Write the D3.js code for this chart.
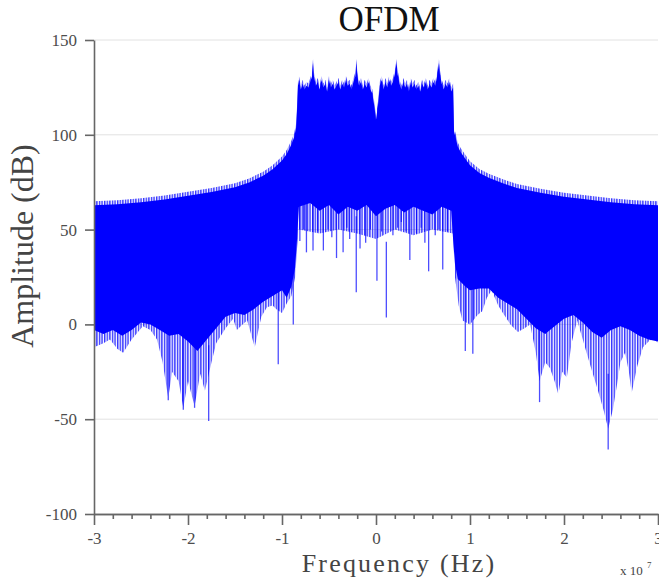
<!DOCTYPE html>
<html lang="en">
<head>
<meta charset="utf-8" />
<title>OFDM</title>
<script src="https://cdn.jsdelivr.net/npm/d3@7"></script>
<style>
    body { margin: 0; background: #fff; }
    .axis text { font-family: "Liberation Serif", "DejaVu Serif", serif; font-size: 17px; fill: #4d4d4d; }
    .axis path, .axis line { stroke: #666; stroke-width: 1.6px; }
    .grid line { stroke: #e2e2e2; stroke-width: 1px; }
    .lbl { font-family: "Liberation Serif", "DejaVu Serif", serif; fill: #444; }
</style>
</head>
<body>
<svg width="659" height="579"></svg>
<script>
// upper envelope of the spectrum (freq in 1e7 Hz, amplitude in dB)
var topF = [-3.0, -2.75, -2.5, -2.25, -2.0, -1.75, -1.5, -1.35, -1.2, -1.1, -1.0, -0.95, -0.9, -0.87, -0.85, -0.84, -0.83,
    -0.82, -0.80, -0.78, -0.76, -0.74, -0.72, -0.70, -0.68, -0.67, -0.66, -0.64, -0.62, -0.60, -0.58, -0.56, -0.54, -0.52,
    -0.50, -0.48, -0.46, -0.44, -0.42, -0.40, -0.38, -0.36, -0.34, -0.32, -0.30, -0.28, -0.26, -0.24, -0.22, -0.21, -0.20,
    -0.18, -0.16, -0.14, -0.12, -0.10, -0.08, -0.06, -0.04, -0.02, 0.00, 0.02, 0.04, 0.06, 0.08, 0.10, 0.12, 0.14, 0.16,
    0.18, 0.20, 0.22, 0.23, 0.25, 0.27, 0.29, 0.31, 0.33, 0.35, 0.37, 0.39, 0.41, 0.43, 0.45, 0.47, 0.49, 0.51, 0.53,
    0.55, 0.57, 0.59, 0.61, 0.63, 0.65, 0.67, 0.68, 0.70, 0.72, 0.74, 0.76, 0.78, 0.80, 0.82, 0.83,
    0.85, 0.87, 0.9, 0.95, 1.0, 1.1, 1.2, 1.35, 1.5, 1.75, 2.0, 2.25, 2.5, 2.75, 3.0];
var topA = [65, 65.5, 66.5, 68, 70, 72, 74.5, 77, 80.5, 84, 88.5, 92, 97, 101, 106, 115, 128,
    131, 126, 129, 126, 128, 127, 130, 133, 140, 133, 128, 130, 126, 131, 127, 129, 125,
    131, 127, 129, 126, 128, 130, 126, 129, 127, 131, 128, 129, 126, 130, 133, 140, 134,
    128, 130, 126, 129, 127, 130, 126, 124, 118, 110, 117, 128, 131, 126, 130, 127, 131, 128,
    130, 134, 140, 134, 129, 126, 130, 127, 129, 125, 130, 127, 129, 126, 128, 125, 129, 127, 130,
    126, 129, 127, 130, 128, 133, 140, 134, 129, 126, 129, 127, 130, 125, 127, 104,
    100, 96, 93, 89.5, 86, 82, 79.5, 76.5, 74, 71.5, 69.5, 68, 66.5, 65.5, 65];

// bottom of the solid (densely packed) part
var denseF = [-3.0, -2.9, -2.8, -2.7, -2.6, -2.5, -2.4, -2.3, -2.2, -2.1, -2.0, -1.9, -1.8, -1.7, -1.6, -1.5, -1.4, -1.3,
    -1.2, -1.1, -1.0, -0.95, -0.9, -0.86, -0.84, -0.82, -0.7, -0.6, -0.5, -0.4, -0.3, -0.2, -0.1, 0.0, 0.1, 0.2, 0.3,
    0.4, 0.5, 0.6, 0.7, 0.8, 0.82, 0.84, 0.87, 0.95, 1.0, 1.1, 1.2, 1.3, 1.4, 1.5, 1.6, 1.7, 1.8, 1.9, 2.0, 2.1, 2.2,
    2.3, 2.4, 2.5, 2.6, 2.7, 2.8, 2.9, 3.0];
var denseA = [-3, -5, -3, -6, -3, 1, 0, -3, -6, -5, -9, -14, -8, -2, 4, 6, 5, 8,
    12, 15, 18, 14, 20, 30, 45, 62, 64, 60, 63, 58, 62, 60, 63, 57, 61, 63, 59,
    62, 60, 58, 62, 60, 45, 32, 24, 20, 18, 19, 19, 14, 11, 8, 3, -2, -5, -1, 3, 5, 1,
    -4, -7, -3, -1, -3, -6, -8, -9];

// lower reach of the sparser, lighter lines
var lightF = [-3.0, -2.9, -2.83, -2.75, -2.69, -2.6, -2.48, -2.4, -2.33, -2.27, -2.21, -2.17, -2.1, -2.05, -2.0, -1.93,
    -1.87, -1.82, -1.75, -1.7, -1.6, -1.52, -1.48, -1.42, -1.37, -1.29, -1.22, -1.16, -1.1, -1.06, -1.0, -0.95, -0.9,
    -0.86, -0.84, -0.82, -0.6, -0.4, -0.2, 0.0, 0.2, 0.4, 0.6, 0.82, 0.84, 0.88, 0.92, 1.0, 1.08, 1.13, 1.18, 1.23,
    1.3, 1.35, 1.43, 1.51, 1.58, 1.64, 1.7, 1.74, 1.8, 1.85, 1.9, 1.94, 1.98, 2.03, 2.08, 2.14, 2.2, 2.24, 2.3, 2.35,
    2.42, 2.47, 2.52, 2.56, 2.6, 2.65, 2.69, 2.72, 2.78, 2.84, 2.9, 2.95, 3.0];
var lightA = [-12, -10, -8, -13, -15, -8, -1, -3, -8, -20, -39, -25, -30, -44, -30, -43,
    -26, -35, -20, -10, -2, 3, -3, 0, 2, -12, 4, 9, 10, 8, 6, 11, 15,
    25, 40, 50, 48, 50, 48, 45, 50, 47, 50, 48, 25, 10, 2, 0, 5, 7, 14, 18,
    10, 6, 0, -4, -2, 0, -15, -30, -20, -23, -30, -37, -25, -28, -10, 2, -8, -15, -25, -33,
    -45, -55, -45, -33, -20, -15, -25, -36, -22, -12, -9, -7, -10];

// single deep lines
var spikeF = [-2.21, -2.05, -1.93, -1.78, -1.04, -0.88, -0.81, -0.77, -0.74, -0.67, -0.62, -0.56, -0.51, -0.47, -0.42,
    -0.35, -0.31, -0.28, -0.21, -0.17, -0.11, -0.06, 0.01, 0.06, 0.11, 0.18, 0.23, 0.27, 0.32, 0.36, 0.43, 0.48, 0.52,
    0.56, 0.63, 0.67, 0.71, 0.76, 0.95, 1.03, 1.74, 2.47];
var spikeA = [-40, -45, -44, -51, -21, 0, 44, 50, 38, 39, 49, 39, 50, 46, 35,
    38, 51, 45, 17, 40, 43, 50, 23, 49, 3.6, 47, 51, 54, 49, 34, 48, 51, 43,
    28, 47, 50, 29, 49, -14, -15.5, -41, -66];

var yTicks = [-100, -50, 0, 50, 100, 150];
var xTicks = [-3, -2, -1, 0, 1, 2, 3];
var gridVals = [-50, 0, 50, 100, 150];

var svg = d3.select("svg");
var x = d3.scaleLinear().domain([-3, 3]).range([94, 658]);
var y = d3.scaleLinear().domain([-100, 150]).range([514, 40]);

function zip(f, a) { return f.map(function (v, i) { return { f: v, a: a[i] }; }); }
var topPts = zip(topF, topA), densePts = zip(denseF, denseA), lightPts = zip(lightF, lightA);

// gridlines
svg.append("g").attr("class", "grid").selectAll("line")
    .data(gridVals).enter().append("line")
    .attr("x1", x(-3)).attr("x2", x(3))
    .attr("y1", function (d) { return y(d); }).attr("y2", function (d) { return y(d); });

// stripes for the comb-like light parts
var defs = svg.append("defs");
var pat = defs.append("pattern").attr("id", "comb").attr("patternUnits", "userSpaceOnUse")
    .attr("width", 2.6).attr("height", 10);
pat.append("rect").attr("x", 0).attr("y", 0).attr("width", 1.4).attr("height", 10)
    .attr("fill", "#0000ff").attr("fill-opacity", 0.8);

var clip = defs.append("clipPath").attr("id", "plotclip");
clip.append("rect").attr("x", x(-3)).attr("y", y(150)).attr("width", x(3) - x(-3)).attr("height", y(-100) - y(150));

var plot = svg.append("g").attr("clip-path", "url(#plotclip)");

// light part: light bottom up to the top envelope
var lightPoly = lightPts.map(function (d) { return [x(d.f), y(d.a)]; })
    .concat(topPts.slice().reverse().map(function (d) { return [x(d.f), y(d.a)]; }));
plot.append("path")
    .attr("d", "M" + lightPoly.join("L") + "Z")
    .attr("fill", "url(#comb)");

// deep single lines
plot.append("g").selectAll("line")
    .data(zip(spikeF, spikeA)).enter().append("line")
    .attr("x1", function (d) { return x(d.f); }).attr("x2", function (d) { return x(d.f); })
    .attr("y1", function (d) { return y(d.a); }).attr("y2", function (d) { return y(d.a + 40); })
    .attr("stroke", "#0000ff").attr("stroke-opacity", 0.7).attr("stroke-width", 1.3);

// solid part: dense bottom -> top envelope (slightly below tips)
var densePoly = densePts.map(function (d) { return [x(d.f), y(d.a)]; })
    .concat(topPts.slice().reverse().map(function (d) { return [x(d.f), y(d.a) + 4]; }));
plot.append("path")
    .attr("d", "M" + densePoly.join("L") + "Z")
    .attr("fill", "#0000ff");

// axes
svg.append("g").attr("class", "axis")
    .attr("transform", "translate(94,0)")
    .call(d3.axisLeft(y).tickValues(yTicks).tickSize(9).tickSizeOuter(0).tickPadding(8)
        .tickFormat(function (d) { return String(d); }));

var minor = d3.range(-30, 31, 2).filter(function (v) { return v % 10 !== 0; }).map(function (v) { return v / 10; });
svg.append("g").attr("class", "axis")
    .attr("transform", "translate(0,514)")
    .call(d3.axisBottom(x).tickValues(minor).tickSize(5).tickSizeOuter(0).tickFormat(""));
svg.append("g").attr("class", "axis")
    .attr("transform", "translate(0,514)")
    .call(d3.axisBottom(x).tickValues(xTicks).tickSize(11).tickSizeOuter(0).tickPadding(7)
        .tickFormat(function (d) { return String(d); }));

// labels
svg.append("text").attr("class", "lbl")
    .attr("x", 389).attr("y", 31).attr("text-anchor", "middle")
    .style("font-size", "35px").style("fill", "#111").text("OFDM");

svg.append("text").attr("class", "lbl")
    .attr("transform", "translate(33,246) rotate(-90)").attr("text-anchor", "middle")
    .style("font-size", "32px").text("Amplitude (dB)");

svg.append("text").attr("class", "lbl")
    .attr("x", 399).attr("y", 572).attr("text-anchor", "middle")
    .style("font-size", "26px").style("letter-spacing", "2.2px").text("Frequency (Hz)");

svg.append("text").attr("class", "lbl")
    .attr("x", 620).attr("y", 575).style("font-size", "13px").text("x 10");
svg.append("text").attr("class", "lbl")
    .attr("x", 647).attr("y", 568).style("font-size", "9px").text("7");
</script>
</body>
</html>
